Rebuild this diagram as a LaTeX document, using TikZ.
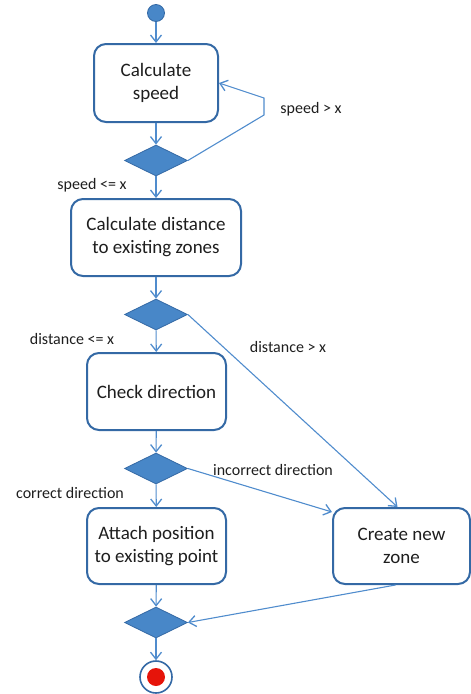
\documentclass[tikz,border=0pt]{standalone}
\usepackage{fontspec}
\setmainfont{Carlito}
\usetikzlibrary{shapes.geometric,arrows.meta}
\definecolor{boxblue}{RGB}{52,105,165}
\definecolor{lineblue}{RGB}{80,140,205}
\definecolor{fillblue}{RGB}{72,135,200}
\definecolor{endred}{RGB}{230,20,10}
\definecolor{txt}{RGB}{30,30,30}
\begin{document}
\begin{tikzpicture}[x=1pt,y=-1pt,
  actbox/.style={draw=boxblue,line width=2pt,rounded corners=12pt,fill=white,align=center,inner sep=0pt,text=txt,font=\fontsize{19}{23}\selectfont},
  decis/.style={diamond,draw=boxblue,line width=0.8pt,fill=fillblue,inner sep=0pt,minimum width=63pt,minimum height=31pt},
  conn/.style={draw=lineblue,line width=1.1pt,-{Straight Barb[length=7pt,width=11pt,line width=1.3pt]}},
  lbl/.style={font=\fontsize{16}{18}\selectfont,inner sep=0pt,text=txt}]
\useasboundingbox (0,0) rectangle (471,694);
\node[circle,draw=boxblue,line width=0.8pt,fill=fillblue,minimum size=17pt,inner sep=0pt] (start) at (156,13) {};
\node[actbox,minimum width=124pt,minimum height=78pt] (b1) at (156,83) {Calculate\\speed};
\node[decis] (d1) at (156,160.5) {};
\node[actbox,minimum width=170pt,minimum height=77pt] (b2) at (156,237.5) {Calculate distance\\to existing zones};
\node[decis] (d2) at (156,314.5) {};
\node[actbox,minimum width=139pt,minimum height=77pt] (b3) at (156.5,391.5) {Check direction};
\node[decis] (d3) at (156,468.5) {};
\node[actbox,minimum width=139pt,minimum height=76pt] (b5) at (156.5,546) {Attach position\\to existing point};
\node[actbox,minimum width=137pt,minimum height=76pt] (b4) at (401.5,546) {Create new\\zone};
\node[decis] (d4) at (156,622.5) {};
\node[circle,draw=boxblue,line width=1.6pt,fill=white,minimum size=32pt,inner sep=0pt] (end) at (156,677) {};
\node[circle,fill=endred,minimum size=18pt,inner sep=0pt] (endin) at (end.center) {};
\coordinate (c1) at (264,115);
\coordinate (c2) at (264,98);
\draw[conn] (start) -- (b1);
\draw[conn] (b1) -- (d1);
\draw[conn] (d1.east) -- (c1) -- (c2) -- (b1.east);
\draw[conn] (d1) -- (b2);
\draw[conn] (b2) -- (d2);
\draw[conn] (d2) -- (b3);
\draw[conn] (d2.east) -- ([xshift=-4pt]b4.north);
\draw[conn] (b3) -- (d3);
\draw[conn] (d3) -- (b5);
\draw[conn] (d3.east) -- ([yshift=-5pt]b4.north west);
\draw[conn] (b5) -- (d4);
\draw[conn] ([xshift=-6pt]b4.south) -- (d4.east);
\draw[conn] (d4) -- (end);
\node[lbl] (l1) at (311,109) {speed > x};
\node[lbl] (l2) at (92,185) {speed <= x};
\node[lbl] (l3) at (72,339) {distance <= x};
\node[lbl] (l4) at (288,347) {distance > x};
\node[lbl] (l5) at (273,470) {incorrect direction};
\node[lbl] (l6) at (70,493) {correct direction};
\end{tikzpicture}
\end{document}
